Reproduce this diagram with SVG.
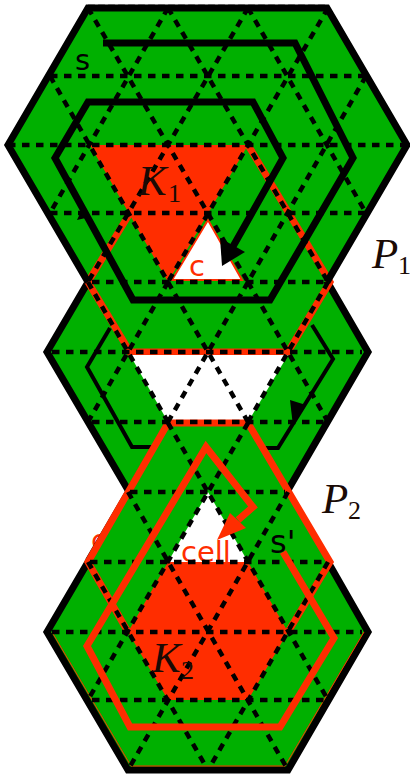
<svg xmlns="http://www.w3.org/2000/svg" width="410" height="774" viewBox="0 0 410 774">
<style>
.g{fill:#00b000;stroke:none}
.r{fill:#ff2d00;stroke:none}
.w{fill:#fff;stroke:none}
.o{fill:none;stroke:#000;stroke-width:7;stroke-linejoin:miter}
.d{fill:none;stroke:#000;stroke-width:4.5;stroke-dasharray:7.5 6.5}
.k{fill:none;stroke:#000;stroke-width:7}
.k2{fill:none;stroke:#000;stroke-width:4}
.rl{fill:none;stroke:#ff2d00;stroke-width:7}
.t{font-family:"DejaVu Sans",sans-serif;font-size:29px}
.m{font-family:"Liberation Serif",serif;font-style:italic;font-size:43px;fill:#1a0a05}
.n{font-family:"Liberation Serif",serif;font-size:26px;fill:#1a0a05}
</style>
<g id="hex-2">
<polygon class="g" points="47,352 128,214 288,214 368,352 288,490 128,490"/>
<path class="o" d="M128,214L47,352L128,490M288,214L368,352L288,490"/>
</g>
<g id="hex-1">
<polygon class="g" points="8,145 88,8 327,8 407,145 327,282 88,282"/>
<path d="M88,5H327" fill="none" stroke="#999" stroke-width="1.5" stroke-dasharray="7 3"/>
<polygon class="r" points="90,145 248,145 168,282"/>
<path class="rl" d="M248,145L330,282L288,352H130L88,282L130,213"/>
<polygon class="w" points="208,220 242,280 172,280" style="stroke:#ff2d00;stroke-width:2"/>
<path class="o" d="M88,282L8,145L88,8H327L407,145L327,282"/>
<text class="t" x="75" y="70" fill="#000">s</text>
<text class="t" x="189" y="276" fill="#ff2d00">c</text>
</g>
<g id="white-band">
<polygon class="w" points="130,355 288,355 248,422 168,422"/>
</g>
<g id="loop-2">
<path class="k2" d="M110,328L87,367L132,447H165M312,325L333,359L278,448H255"/>
<path d="M306,405L293,426L290,400z" fill="#000"/>
</g>
<text class="t" x="91" y="550" fill="#ff2d00">c</text>
<g id="hex-3">
<polygon class="g" points="47,632 88,562 168,423 248,423 328,562 368,632 288,770 128,770"/>
<polygon class="w" points="208,492 248,562 168,562"/>
<polygon class="r" points="168,562 248,562 288,632 248,700 168,700 128,632"/>
<path class="o" d="M88,562L47,632L128,770H288L368,632L328,562"/>
<path d="M52,632L131,766H285L364,632" fill="none" stroke="#ff2d00" stroke-width="1"/>
<path d="M166,423L86,560M250,425L329,562" fill="none" stroke="#000" stroke-width="2"/>
<path class="rl" d="M128,632L88,562L168,423H248L330,562L288,632"/>
<text class="t" x="181" y="562" fill="#ff2d00">cell</text>
</g>
<g id="connectors">
<path class="d" d="M50,76H366M8,145H407M50,213H366M92,282H325M52,352H362M92,422H325M130,492H285M90,562H328M52,632H362M92,700H325"/>
<path class="d" d="M50,76L168,282M88,8L248,282M168,8L328,282M248,8L366,213M168,8L50,213M248,8L88,282M328,8L168,282M366,76L248,282"/>
<path class="d" d="M88,282L168,422M168,282L248,422M248,282L328,422M328,282L248,422M248,282L168,422M168,282L88,422"/>
<path class="d" d="M168,423L328,700M128,492L288,770M88,562L208,770M288,492L128,770M248,423L88,700M328,562L208,770"/>
<path class="k" d="M103,43H295L353,158L270,300H133L55,158L88,102H253L283,158L231,250"/>
<path d="M222,266L220,238L245,252z" fill="#000"/>
<path d="M84,205L77,220L90,217z" fill="#000"/>
<path class="rl" d="M283,552L334,638L280,727H130L87,646L206,447L253,507L238,520"/>
<path d="M217,540L230,513L246,528z" fill="#ff2d00"/>
</g>
<g id="labels">
<text class="m" x="138" y="195">K</text><text class="n" x="168" y="202">1</text>
<text class="m" x="372" y="268">P</text><text class="n" x="398" y="274">1</text>
<text class="t" x="270" y="553" fill="#000" style="font-size:32px">s'</text>
<text class="m" x="322" y="513">P</text><text class="n" x="348" y="519">2</text>
<text class="m" x="152" y="672">K</text><text class="n" x="181" y="679">2</text>
</g>
</svg>
